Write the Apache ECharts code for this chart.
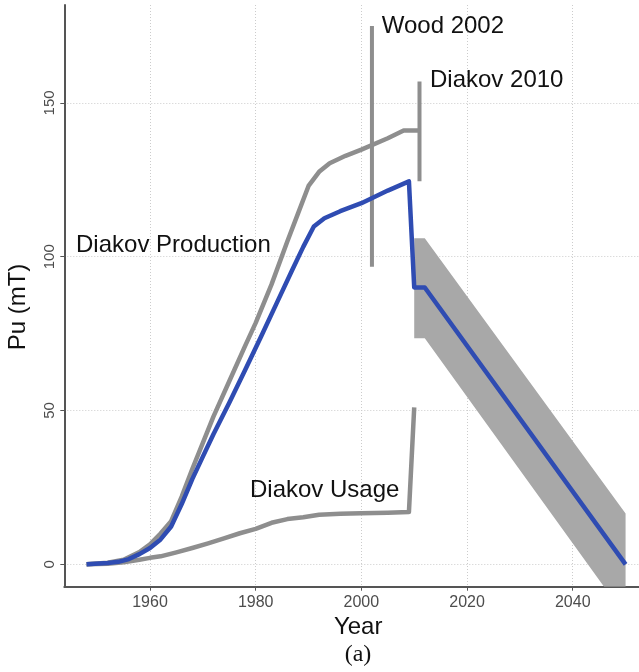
<!DOCTYPE html>
<html>
<head>
<meta charset="utf-8">
<script src="https://cdn.jsdelivr.net/npm/echarts@6/dist/echarts.min.js"></script>
<style>
html,body{margin:0;padding:0;background:#ffffff;}
#chart{width:639px;height:672px;}
</style>
</head>
<body>
<div id="chart"></div>
<script>
// ---- data ----
const xTicks = [1960, 1980, 2000, 2020, 2040];
const yTicks = [0, 50, 100, 150];

const productionYears  = [1948,1952,1955,1958,1960,1962,1964,1966,1968,1970,1972,1975,1978,1980,1983,1986,1988,1990,1992,1994,1997,2000,2005,2008,2011];
const productionValues = [0,0.5,1.5,4,6.5,10,14,22,31,39.5,48,59.5,71,78.5,91,105,114,123,127.6,130.4,132.8,134.8,138.5,141,141];

const blueYears  = [1948,1952,1954,1956,1958,1960,1962,1964,1966,1968,1970,1972,1975,1978,1981,1984,1987,1989,1991,1993,1996,2000,2005,2009,2010,2012,2050];
const blueValues = [0,0.4,0.8,1.7,3.3,5.3,8.1,12.3,19.6,27.7,35,42.3,52.5,63.2,74,85,96,103.2,109.8,112.5,114.8,117.4,121.5,124.5,90,90,0];

const usageYears  = [1948,1952,1955,1958,1960,1962,1965,1968,1971,1974,1977,1980,1983,1986,1989,1992,1996,2000,2005,2009,2010];
const usageValues = [0,0.2,0.7,1.5,2.1,2.6,3.9,5.3,6.8,8.4,10.1,11.5,13.5,14.7,15.3,16.1,16.4,16.6,16.8,17,51];

const woodYears  = [2002, 2002];
const woodValues = [96.7, 175];

const diakov2010Years  = [2011, 2011];
const diakov2010Values = [124.5, 157];

const ribbonYears = [2010, 2012, 2050];
const ribbonLow   = [73.5, 73.5, -17];
const ribbonHigh  = [106, 106, 16.5];

const labelTexts  = ['Diakov Production', 'Wood 2002', 'Diakov 2010', 'Diakov Usage'];
const labelYears  = [1946.0, 2003.85, 2012.99, 1978.92];
const labelValues = [103.8, 175.0, 157.2, 23.9];

// ---- build ----
const zip = (xs, ys) => xs.map((x, i) => [x, ys[i]]);
const GRAY = '#8e8e8e';
const BLUE = '#2f4cb2';
const RIBBON = '#a8a8a8';
const LW = 4.5;

const chart = echarts.init(document.getElementById('chart'), null, {renderer: 'canvas'});

const lineBase = {type: 'line', symbol: 'none', silent: true, animation: false, clip: true};

chart.setOption({
  animation: false,
  backgroundColor: '#ffffff',
  textStyle: {fontFamily: 'Liberation Sans'},
  grid: {left: 64.3, top: 5, bottom: 85.3, right: -13, containLabel: false, outerBoundsMode: 'none'},
  xAxis: {
    type: 'value', min: 1943.78, max: 2055,
    axisLine: {show: true, onZero: false, lineStyle: {color: '#555555', width: 2}},
    axisTick: {show: true, length: 4, customValues: xTicks, lineStyle: {color: '#555555', width: 1}},
    axisLabel: {customValues: xTicks, fontSize: 16, color: '#4d4d4d', margin: 8, fontFamily: 'Liberation Sans',
                formatter: v => String(v)},
    splitLine: {show: true, lineStyle: {type: [1, 2], color: '#cccccc', width: 1}},
    name: 'Year', nameLocation: 'middle', nameGap: 25,
    nameTextStyle: {fontSize: 24, color: '#111111', fontFamily: 'Liberation Sans'}
  },
  yAxis: {
    type: 'value', min: -7.28, max: 181.83,
    axisLine: {show: true, onZero: false, lineStyle: {color: '#555555', width: 2}},
    axisTick: {show: true, length: 4, customValues: yTicks, lineStyle: {color: '#555555', width: 1}},
    axisLabel: {customValues: yTicks, fontSize: 15, color: '#4d4d4d', margin: 7, rotate: 90, fontFamily: 'Liberation Sans',
                formatter: v => String(v)},
    splitLine: {show: true, lineStyle: {type: [1, 2], color: '#cccccc', width: 1}}
  },
  graphic: [
    {type: 'text', x: 18.3, y: 307, rotation: Math.PI / 2, silent: true,
     style: {text: 'Pu (mT)', fontSize: 24, fill: '#111111', fontFamily: 'Liberation Sans', align: 'center', verticalAlign: 'middle'}},
    {type: 'text', x: 358, y: 655, silent: true,
     style: {text: '(a)', fontSize: 24, fill: '#111111', fontFamily: 'Liberation Serif', align: 'center', verticalAlign: 'middle'}}
  ],
  series: [
    {
      type: 'custom', name: 'ribbon', silent: true, animation: false, clip: true, z: 1,
      data: [[ribbonYears[0], ribbonLow[0]]],
      renderItem: (params, api) => {
        const upper = ribbonYears.map((x, i) => api.coord([x, ribbonHigh[i]]));
        const lower = ribbonYears.map((x, i) => api.coord([x, ribbonLow[i]])).reverse();
        const cs = params.coordSys;
        return {
          type: 'polygon',
          shape: {points: upper.concat(lower)},
          style: {fill: RIBBON},
          clipPath: {type: 'rect', shape: {x: cs.x, y: cs.y, width: cs.width, height: cs.height}}
        };
      }
    },
    Object.assign({}, lineBase, {
      name: 'Diakov Usage', data: zip(usageYears, usageValues),
      lineStyle: {color: GRAY, width: LW, join: 'round', cap: 'butt'}, z: 2
    }),
    Object.assign({}, lineBase, {
      name: 'Wood 2002', data: zip(woodYears, woodValues),
      lineStyle: {color: GRAY, width: 4, cap: 'butt'}, z: 2
    }),
    Object.assign({}, lineBase, {
      name: 'Diakov 2010', data: zip(diakov2010Years, diakov2010Values),
      lineStyle: {color: GRAY, width: 4, cap: 'butt'}, z: 2
    }),
    Object.assign({}, lineBase, {
      name: 'Diakov Production', data: zip(productionYears, productionValues),
      lineStyle: {color: GRAY, width: LW, join: 'round', cap: 'butt'}, z: 3
    }),
    Object.assign({}, lineBase, {
      name: 'Estimate', data: zip(blueYears, blueValues),
      lineStyle: {color: BLUE, width: LW, join: 'round', cap: 'butt'}, z: 4
    }),
    {
      type: 'scatter', name: 'labels', symbolSize: 0, silent: true, animation: false, z: 5,
      itemStyle: {opacity: 1},
      data: labelTexts.map((t, i) => ({value: [labelYears[i], labelValues[i]], name: t})),
      label: {
        show: true, position: [0, 0], align: 'left', verticalAlign: 'middle', opacity: 1,
        formatter: p => p.name, fontSize: 24, color: '#111111', fontFamily: 'Liberation Sans'
      }
    }
  ]
});
</script>
</body>
</html>
